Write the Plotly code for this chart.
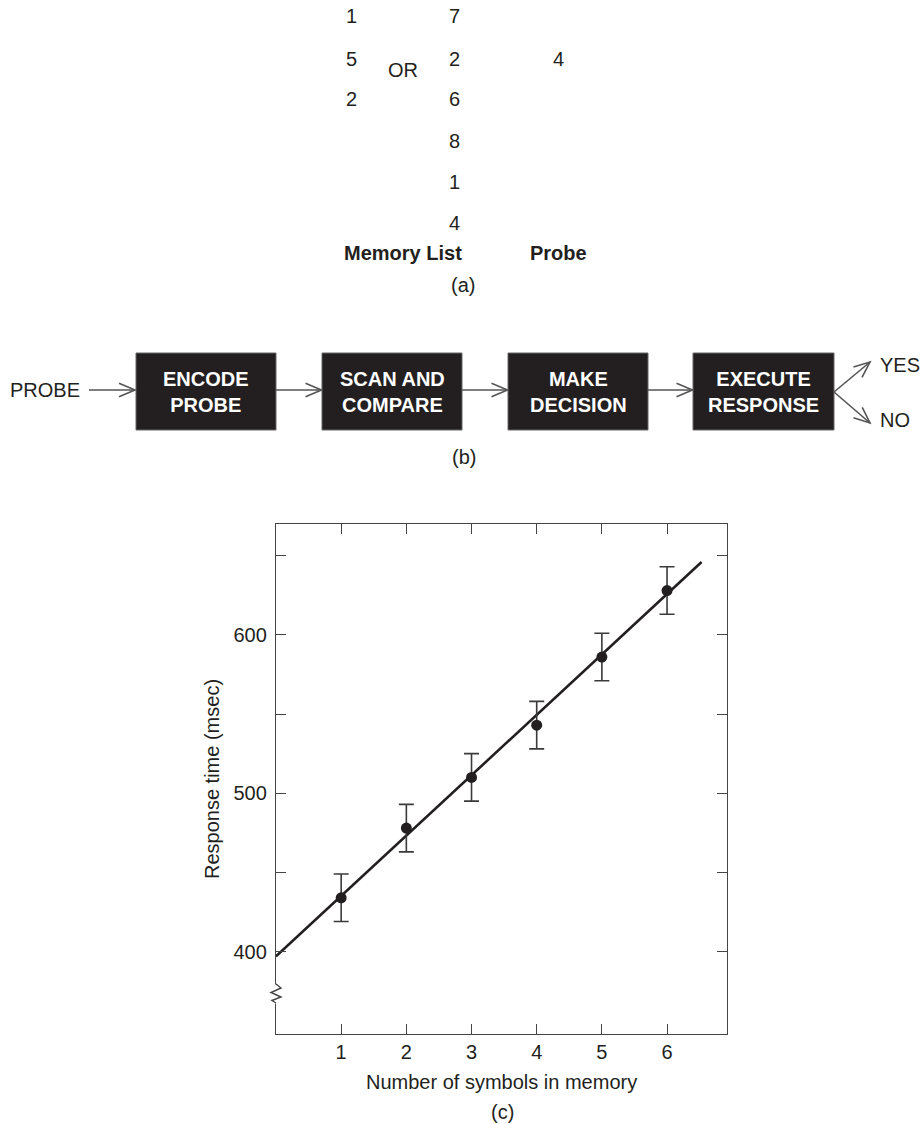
import math
import plotly.graph_objects as go

# ---------------- data ----------------
set_sizes = [1, 2, 3, 4, 5, 6]
mean_rt = [434, 478, 510, 543, 586, 628]
rt_err = [15, 15, 15, 15, 15, 15]
fit_x = [0, 6.53]
fit_y = [397, 646]
y_tickvals = [400, 450, 500, 550, 600, 650]
y_ticktext = ["400", "", "500", "", "600", ""]
x_tickvals = [1, 2, 3, 4, 5, 6]

list_short = ["1", "5", "2"]
list_long = ["7", "2", "6", "8", "1", "4"]
probe_digit = "4"
stages = ["ENCODE<br>PROBE", "SCAN AND<br>COMPARE", "MAKE<br>DECISION", "EXECUTE<br>RESPONSE"]

# ---------------- layout geometry (reference pixels) ----------------
W_FIG, H_FIG = 923, 1124
L, R, T, B = 276, 727, 524, 1034
PW, PH = R - L, B - T
FONT = "Liberation Sans, Arial, Helvetica, sans-serif"
INK = "#231f20"


def px(x):
    return (x - L) / PW


def py(y):
    return (B - y) / PH


fig = go.Figure()
fig.add_trace(go.Scatter(x=fit_x, y=fit_y, mode="lines",
                         line=dict(color=INK, width=2.6), hoverinfo="skip"))
fig.add_trace(go.Scatter(x=set_sizes, y=mean_rt, mode="markers",
                         marker=dict(color=INK, size=11),
                         error_y=dict(type="data", array=rt_err, color="#3a3a3a",
                                      thickness=1.6, width=7.5)))

annotations = []
shapes = []


def text(x, y, s, size=20, bold=False, color=INK, xanchor="center"):
    annotations.append(dict(
        x=px(x), y=py(y), xref="paper", yref="paper", text=("<b>%s</b>" % s) if bold else s,
        showarrow=False, xanchor=xanchor, yanchor="middle",
        font=dict(family=FONT, size=size, color=color)))


def seg(pts, color="#555555", width=1.6):
    path = "M " + " L ".join("%f,%f" % (px(a), py(b)) for a, b in pts)
    shapes.append(dict(type="path", path=path, xref="paper", yref="paper",
                       line=dict(color=color, width=width), layer="above"))


# ---------------- (a) ----------------
row_y = [15.7, 58.7, 99.3, 141.3, 182.3, 223.3]
for i, d in enumerate(list_short):
    text(351, row_y[i], d)
for i, d in enumerate(list_long):
    text(454, row_y[i], d)
text(402.7, 70, "OR")
text(558.3, 58.7, probe_digit)
text(403, 253, "Memory List", bold=True)
text(558, 253, "Probe", bold=True)
text(463.3, 285, "(a)")

# ---------------- (b) ----------------
box_x = [(136, 276), (322, 462), (508, 648), (693, 834)]
box_top, box_bot = 353, 430
mid = 390
for (x0, x1), s in zip(box_x, stages):
    shapes.append(dict(type="rect", xref="paper", yref="paper",
                       x0=px(x0), x1=px(x1), y0=py(box_bot), y1=py(box_top),
                       fillcolor=INK, line=dict(color="#666666", width=1), layer="above"))
    text((x0 + x1) / 2, 392, s, bold=True, color="white")

text(45.3, mid, "PROBE")


def arrow(x0, y0, x1, y1):
    seg([(x0, y0), (x1, y1)])
    ang = math.atan2(y1 - y0, x1 - x0)
    ln, hw = 16, 6.7
    bx, by = x1 - ln * math.cos(ang), y1 - ln * math.sin(ang)
    nx, ny = -math.sin(ang), math.cos(ang)
    seg([(bx + hw * nx, by + hw * ny), (x1, y1), (bx - hw * nx, by - hw * ny)])


arrow(89, mid, 135, mid)
arrow(276, mid, 321.5, mid)
arrow(462, mid, 507.5, mid)
arrow(648, mid, 692.5, mid)
arrow(834, 392, 870, 362)
arrow(834, 392, 870, 423)
text(878, 365, "YES", xanchor="left")
text(878, 420, "NO", xanchor="left")
text(464, 456.7, "(b)")

# ---------------- (c) axis break & titles ----------------
shapes.append(dict(type="rect", xref="paper", yref="paper",
                   x0=px(L - 8), x1=px(L + 4), y0=py(1003.5), y1=py(984.5),
                   fillcolor="white", line=dict(width=0), layer="above"))
seg([(L, 984), (L + 5, 988), (L - 5, 992.5), (L + 5, 997), (L - 4, 1000.5), (L, 1003)],
    color="#444444", width=1.4)

annotations.append(dict(x=px(212), y=0.5, xref="paper", yref="paper",
                        text="Response time (msec)", textangle=-90, showarrow=False,
                        xanchor="center", yanchor="middle",
                        font=dict(family=FONT, size=20, color=INK)))
text(501.5, 1081.7, "Number of symbols in memory")
text(502.7, 1111.7, "(c)")

fig.update_layout(
    width=W_FIG, height=H_FIG,
    margin=dict(l=L, r=W_FIG - R, t=T, b=H_FIG - B, pad=0),
    paper_bgcolor="white", plot_bgcolor="white",
    showlegend=False,
    font=dict(family=FONT, size=20, color=INK),
    annotations=annotations, shapes=shapes,
    xaxis=dict(range=[0, 6.92], tickvals=x_tickvals, ticks="inside", ticklen=10,
               tickwidth=1.4, tickcolor="#444444", showline=True, linecolor="#444444",
               linewidth=1.4, mirror="ticks", showgrid=False, zeroline=False,
               tickfont=dict(family=FONT, size=20, color=INK)),
    yaxis=dict(range=[348, 670], tickvals=y_tickvals, ticktext=y_ticktext,
               ticks="inside", ticklen=10, tickwidth=1.4, tickcolor="#444444",
               showline=True, linecolor="#444444", linewidth=1.4, mirror="ticks",
               showgrid=False, zeroline=False, ticklabelstandoff=4,
               tickfont=dict(family=FONT, size=20, color=INK)),
)

fig.write_html("out.html",
               config={"displayModeBar": False},
               post_script="document.body.style.margin='0px';document.body.style.overflow='hidden';")
